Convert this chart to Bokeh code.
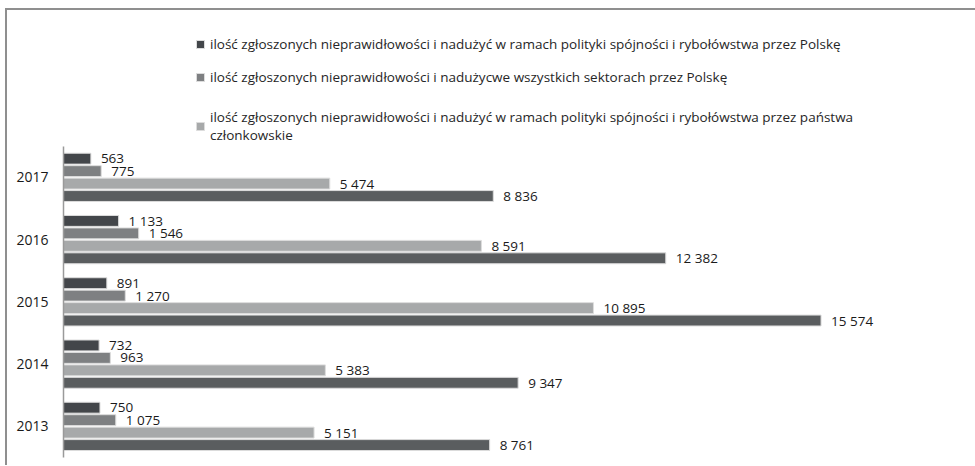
from bokeh.plotting import figure
from bokeh.models import (ColumnDataSource, Range1d, Legend, LegendItem,
                          FixedTicker, GlobalInlineStyleSheet)
from bokeh.transform import dodge
from bokeh.core.properties import value
from bokeh.embed import file_html
from bokeh.resources import INLINE

years = ["2013", "2014", "2015", "2016", "2017"]
pl_cohesion = [750, 732, 891, 1133, 563]
pl_all_sectors = [1075, 963, 1270, 1546, 775]
ms_cohesion = [5151, 5383, 10895, 8591, 5474]
ms_all_sectors = [8761, 9347, 15574, 12382, 8836]

legend_labels = [
    "ilość zgłoszonych nieprawidłowości i nadużyć w ramach polityki spójności i rybołówstwa przez Polskę",
    "ilość zgłoszonych nieprawidłowości i nadużycwe wszystkich sektorach przez Polskę",
    "ilość zgłoszonych nieprawidłowości i nadużyć w ramach polityki spójności i rybołówstwa przez państwa\nczłonkowskie",
]

def fmt(v):
    return "{:,}".format(v).replace(",", " ")

year_vals = [int(y) for y in years]

src = ColumnDataSource(dict(
    year=year_vals,
    s1=pl_cohesion, s2=pl_all_sectors, s3=ms_cohesion, s4=ms_all_sectors,
    l1=[fmt(v) for v in pl_cohesion], l2=[fmt(v) for v in pl_all_sectors],
    l3=[fmt(v) for v in ms_cohesion], l4=[fmt(v) for v in ms_all_sectors],
))

FONT = "Open Sans"
y_lo = year_vals[0] - 0.5
y_hi = year_vals[-1] + 0.5

p = figure(width=968, height=455, y_range=Range1d(y_lo, y_hi + 2.18),
           x_range=Range1d(0, 18400),
           output_backend="svg", toolbar_location=None,
           min_border_left=56, min_border_top=0, min_border_bottom=10, min_border_right=19,
           styles={"margin-top": "8px", "margin-left": "5px", "overflow": "hidden",
                   "box-sizing": "content-box",
                   "border-top": "2px solid #8f8f8f", "border-left": "2px solid #8f8f8f",
                   "border-right": "0px none", "border-bottom": "0px none"})
p.stylesheets = [GlobalInlineStyleSheet(
    css="html, body { overflow: hidden !important; scrollbar-width: none; }")]

series = [("s1", "l1", 0.3, "#43464a"), ("s2", "l2", 0.1, "#7e8082"),
          ("s3", "l3", -0.1, "#a7a9aa"), ("s4", "l4", -0.3, "#5a5d5f")]
renderers = []
for col, lab, off, color in series:
    r = p.hbar(y=dodge("year", off), right=col, left=0, height=0.175,
               source=src, fill_color=color, line_color="#dcdcdc", line_width=1)
    renderers.append(r)
    p.text(x=col, y=dodge("year", off), text=lab, source=src,
           x_offset=10, text_baseline="middle", text_align="left",
           text_font=value(FONT), text_font_size="13.5px", text_color="#1a1a1a")

p.xaxis.visible = False
p.xgrid.visible = False
p.ygrid.visible = False
p.outline_line_color = None
yax = p.yaxis[0]
yax.ticker = FixedTicker(ticks=year_vals)
yax.major_label_overrides = {v: s for v, s in zip(year_vals, years)}
yax.bounds = (y_lo, y_hi)
yax.major_tick_line_color = None
yax.minor_tick_line_color = None
yax.axis_line_color = "#9a9a9a"
yax.axis_line_width = 1.5
yax.major_label_standoff = 9
yax.major_label_text_font = FONT
yax.major_label_text_font_size = "14px"
yax.major_label_text_color = "#1a1a1a"

def mk_legend(items, loc):
    lg = Legend(items=items, location=loc, orientation="vertical",
                glyph_width=10, glyph_height=10, label_standoff=5, spacing=15,
                label_height=16, padding=0, margin=0,
                border_line_color=None, background_fill_alpha=0,
                label_text_font=FONT, label_text_font_size="13.5px",
                label_text_color="#262626", label_text_line_height=1.25)
    p.add_layout(lg, "center")
    return lg

mk_legend([LegendItem(label=legend_labels[0], renderers=[renderers[0]]),
           LegendItem(label=legend_labels[1], renderers=[renderers[1]])], (132, 371))
mk_legend([LegendItem(label=legend_labels[2], renderers=[renderers[2]])], (132, 313))

open("out.html", "w").write(file_html(p, INLINE))
